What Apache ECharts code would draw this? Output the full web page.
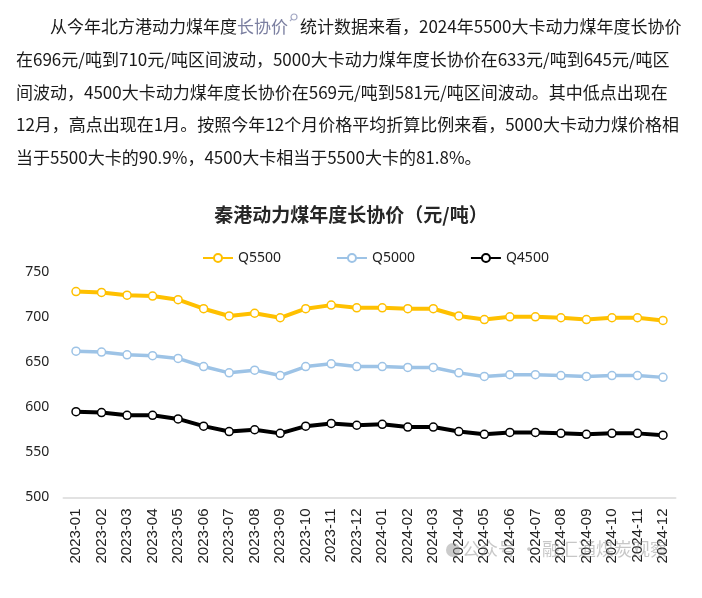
<!DOCTYPE html>
<html>
<head>
<meta charset="utf-8">
<script src="https://cdn.jsdelivr.net/npm/echarts@6/dist/echarts.min.js"></script>
<style>
html,body{margin:0;padding:0;background:#fff;width:702px;height:598px;overflow:hidden;}
#chart{position:absolute;left:0;top:0;width:702px;height:598px;}
#para{position:absolute;left:16px;top:10px;z-index:2;font-family:"Noto Sans CJK SC","Noto Sans",sans-serif;font-size:17px;color:#1a1a1a;}
#para div{height:32.8px;line-height:32.8px;white-space:nowrap;}
.lk{color:#7b7fa0;}
.ic{display:inline-block;vertical-align:top;margin-top:3px;margin-left:1px;margin-right:2px;}
</style>
</head>
<body>
<div id="chart"></div>
<div id="para">
<div style="text-indent:34px">从今年北方港动力煤年度<span class="lk">长协价</span><svg class="ic" width="9" height="10" viewBox="0 0 9 10"><circle cx="5" cy="4" r="3" fill="none" stroke="#a3a8c4" stroke-width="1.2"/><line x1="2.8" y1="6.2" x2="1" y2="8" stroke="#a3a8c4" stroke-width="1.2"/></svg>统计数据来看，2024年5500大卡动力煤年度长协价</div>
<div>在696元/吨到710元/吨区间波动，5000大卡动力煤年度长协价在633元/吨到645元/吨区</div>
<div>间波动，4500大卡动力煤年度长协价在569元/吨到581元/吨区间波动。其中低点出现在</div>
<div>12月，高点出现在1月。按照今年12个月价格平均折算比例来看，5000大卡动力煤价格相</div>
<div>当于5500大卡的90.9%，4500大卡相当于5500大卡的81.8%。</div>
</div>
<script>
const categories = ['2023-01','2023-02','2023-03','2023-04','2023-05','2023-06','2023-07','2023-08','2023-09','2023-10','2023-11','2023-12',
  '2024-01','2024-02','2024-03','2024-04','2024-05','2024-06','2024-07','2024-08','2024-09','2024-10','2024-11','2024-12'];
const q5500 = [728,727,724,723,719,709,701,704,699,709,713,710, 710,709,709,701,697,700,700,699,697,699,699,696];
const q5000 = [662,661,658,657,654,645,638,641,635,645,648,645, 645,644,644,638,634,636,636,635,634,635,635,633];
const q4500 = [595,594,591,591,587,579,573,575,571,579,582,580, 581,578,578,573,570,572,572,571,570,571,571,569];
const seriesNames = ['Q5500','Q5000','Q4500'];
const yMin = 500, yMax = 750, yStep = 50;
const titleText = '秦港动力煤年度长协价（元/吨）';
const watermarkText = '公众号 · 融汇通煤炭观察';

const colors = ['#FFC000','#9DC3E6','#000000'];
const widths = [4,3.5,4];
const chart = echarts.init(document.getElementById('chart'));
function mk(name, data, i){
  return {
    name: name, type: 'line', data: data,
    symbol: 'circle', symbolSize: 8, showAllSymbol: true,
    lineStyle: {color: colors[i], width: widths[i]},
    itemStyle: {color: '#ffffff', borderColor: colors[i], borderWidth: 1.5},
    emphasis: {disabled: true}, z: 3 + i
  };
}
chart.setOption({
  animation: false,
  title: {
    text: titleText, left: 'center', top: 200,
    textStyle: {fontFamily: '"Noto Sans CJK SC", sans-serif', fontSize: 19, fontWeight: 'bold', color: '#262626'}
  },
  legend: {
    data: seriesNames, left: 202, top: 251, padding: 0,
    itemWidth: 30, itemHeight: 10, itemGap: 55,
    textStyle: {fontFamily: '"Noto Sans", sans-serif', fontSize: 14, color: '#222'}
  },
  grid: {left: 63.25, right: 26.25, top: 271.7, bottom: 100.5, containLabel: false},
  xAxis: {
    type: 'category', data: categories, boundaryGap: true,
    axisLine: {show: true, lineStyle: {color: '#d9d9d9', width: 1.5}},
    axisTick: {show: false},
    axisLabel: {rotate: 90, interval: 0, margin: 11, fontSize: 15, fontFamily: '"Liberation Sans", Arial, sans-serif', color: '#222'}
  },
  yAxis: {
    type: 'value', min: yMin, max: yMax, interval: yStep,
    axisLine: {show: false}, axisTick: {show: false}, splitLine: {show: false},
    axisLabel: {margin: 14, fontSize: 14, fontFamily: '"Noto Sans", sans-serif', color: '#222'}
  },
  graphic: [
    {type: 'circle', shape: {cx: 453, cy: 550, r: 7}, style: {fill: 'rgba(140,140,140,0.45)'}, z: 10},
    {type: 'text', left: 462, top: 540, z: 10, style: {text: watermarkText, fontFamily: '"Noto Sans CJK SC", sans-serif', fontSize: 18, fill: 'rgba(130,130,130,0.45)'}}
  ],
  series: [mk(seriesNames[0], q5500, 0), mk(seriesNames[1], q5000, 1), mk(seriesNames[2], q4500, 2)]
});
</script>
</body>
</html>
